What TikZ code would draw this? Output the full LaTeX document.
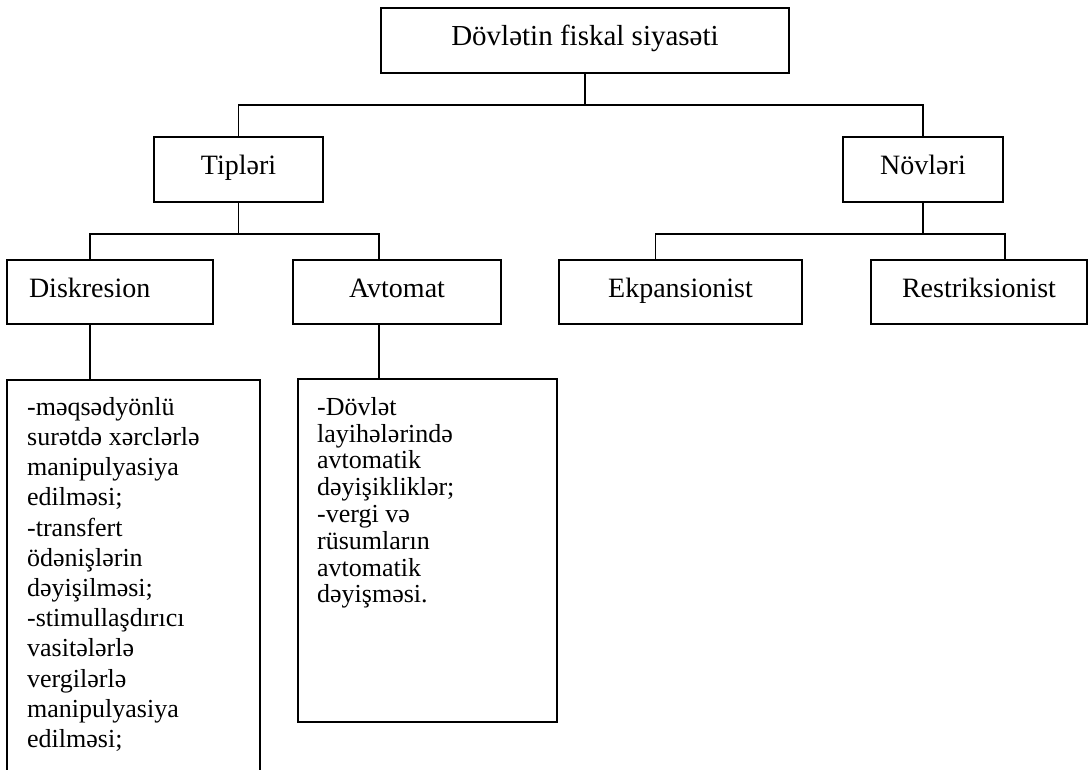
\documentclass[tikz,border=0pt]{standalone}
\usepackage{fontspec}
\setmainfont{Liberation Serif}
\begin{document}
\begin{tikzpicture}[x=1pt,y=-1pt,
  box/.style={draw, line width=1.7pt, inner sep=0pt, text height=20pt, text depth=9pt, font=\fontsize{28}{32}\selectfont},
  tbox/.style={draw, line width=1.7pt, inner sep=0pt},
  conn/.style={line width=1.7pt},
  bodytext/.style={anchor=north west, inner sep=0pt, align=left, font=\fontsize{26}{30.2}\selectfont}]
\useasboundingbox (0,0) rectangle (1092,770);
\clip (0,0) rectangle (1092,770);
% level 0
\node[box, minimum width=408, minimum height=65, font=\fontsize{29}{33}\selectfont] (top) at (585,40.5) {Dövlətin fiskal siyasəti};
% level 1
\node[box, minimum width=169, minimum height=65] (tip) at (238.5,169.5) {Tipləri};
\node[box, minimum width=160, minimum height=65] (nov) at (923,169.5) {Növləri};
% level 2
\node[box, minimum width=206, minimum height=64, text width=162, inner xsep=22, align=left] (disk) at (110,292) {Diskresion};
\node[box, minimum width=208, minimum height=64] (avto) at (397,292) {Avtomat};
\node[box, minimum width=243, minimum height=64] (ekp) at (680.5,292) {Ekpansionist};
\node[box, minimum width=216, minimum height=64] (res) at (979,292) {Restriksionist};
% level 3 boxes
\node[tbox, minimum width=253, minimum height=420] (diskt) at (133.5,590) {};
\node[tbox, minimum width=259, minimum height=343] (avtot) at (427.5,550.5) {};
\node[bodytext] (disktx) at (27,397) {-məqsədyönlü\\surətdə xərclərlə\\manipulyasiya\\edilməsi;\\-transfert\\ödənişlərin\\dəyişilməsi;\\-stimullaşdırıcı\\vasitələrlə\\vergilərlə\\manipulyasiya\\edilməsi;};
\node[bodytext, font=\fontsize{26}{26.8}\selectfont] (avtotx) at (317,397) {-Dövlət\\layihələrində\\avtomatik\\dəyişikliklər;\\-vergi və\\rüsumların\\avtomatik\\dəyişməsi.};
% connectors
\coordinate (j0) at (585,105);
\coordinate (j1) at (238.5,234);
\coordinate (j2) at (923,234);
\draw[conn] (top.south) -- (j0) -| (tip.north);
\draw[conn] (j0) -| (nov.north);
\draw[conn] (tip.south) -- (j1) -| ([xshift=-20pt]disk.north);
\draw[conn] (j1) -| ([xshift=-18pt]avto.north);
\draw[conn] (nov.south) -- (j2) -| ([xshift=-25pt]ekp.north);
\draw[conn] (j2) -| ([xshift=26pt]res.north);
\draw[conn] ([xshift=-20pt]disk.south) -- ([xshift=-20pt]disk.south |- diskt.north);
\draw[conn] ([xshift=-18pt]avto.south) -- ([xshift=-18pt]avto.south |- avtot.north);
\end{tikzpicture}
\end{document}
